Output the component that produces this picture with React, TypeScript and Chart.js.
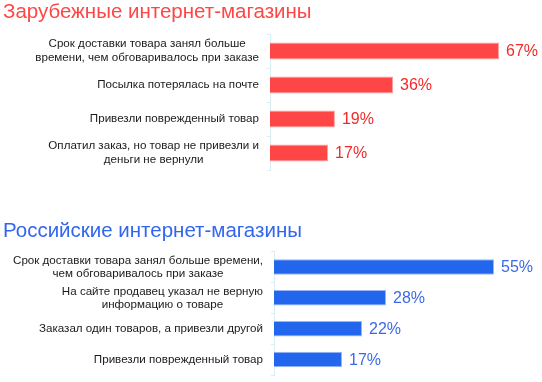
import { useEffect, useRef } from "react";
import { Chart, registerables } from "chart.js";

Chart.register(...registerables);

const FONT = '"Liberation Sans", Arial, Helvetica, sans-serif';

// ---- Data ----
const foreignTitle = "Зарубежные интернет-магазины";
const foreignLabels: (string | string[])[] = [
  ["Срок доставки товара занял больше", "времени, чем обговаривалось при заказе"],
  "Посылка потерялась на почте",
  "Привезли поврежденный товар",
  ["Оплатил заказ, но товар не привезли и", "деньги не вернули"],
];
const foreignValues = [67, 36, 19, 17];

const russianTitle = "Российские интернет-магазины";
const russianLabels: (string | string[])[] = [
  ["Срок доставки товара занял больше времени,", "чем обговаривалось при заказе"],
  ["На сайте продавец указал не верную", "информацию о товаре"],
  "Заказал один товаров, а привезли другой",
  "Привезли поврежденный товар",
];
const russianValues = [55, 28, 22, 17];

type Spec = {
  title: string;
  labels: (string | string[])[];
  values: number[];
  titleColor: string;
  barColor: string;
  barBorder: string;
  valueColor: string;
  xMax: number;
  axisWidth: number;
  padRight: number;
  padBottom: number;
  titlePadTop: number;
  titlePadBottom: number;
  lineHeight: number;
};

function valueLabelPlugin(spec: Spec) {
  return {
    id: "valueLabels",
    afterDatasetsDraw(chart: any) {
      const ctx = chart.ctx;
      const meta = chart.getDatasetMeta(0);
      ctx.save();
      ctx.font = `16px ${FONT}`;
      ctx.fillStyle = spec.valueColor;
      ctx.textAlign = "left";
      ctx.textBaseline = "middle";
      meta.data.forEach((bar: any, i: number) => {
        ctx.fillText(spec.values[i] + "%", bar.x + 7, bar.y + 1);
      });
      ctx.restore();
    },
  };
}

function categoryLabelPlugin(spec: Spec) {
  return {
    id: "categoryLabels",
    afterDraw(chart: any) {
      const ctx = chart.ctx;
      const yScale = chart.scales.y;
      const right = chart.chartArea.left - 11;
      ctx.save();
      ctx.font = `11.6px ${FONT}`;
      ctx.fillStyle = "#1a1a1a";
      ctx.textAlign = "center";
      ctx.textBaseline = "middle";
      chart.data.labels.forEach((lab: any, i: number) => {
        const lines: string[] = Array.isArray(lab) ? lab : [lab];
        const w = Math.max(...lines.map((l) => ctx.measureText(l).width));
        const cx = right - w / 2;
        const cy = yScale.getPixelForValue(i);
        const start = cy - ((lines.length - 1) * spec.lineHeight) / 2;
        lines.forEach((l, k) => ctx.fillText(l, cx, start + k * spec.lineHeight));
      });
      ctx.restore();
    },
  };
}

function BarPanel({ spec, top, height }: { spec: Spec; top: number; height: number }) {
  const ref = useRef<HTMLCanvasElement | null>(null);
  useEffect(() => {
    if (!ref.current) return;
    const chart = new Chart(ref.current, {
      type: "bar",
      data: {
        labels: spec.labels as any,
        datasets: [
          {
            data: spec.values,
            backgroundColor: spec.barColor,
            borderColor: spec.barBorder,
            borderWidth: 1,
            categoryPercentage: 1,
            barPercentage: 0.5,
          },
        ],
      },
      options: {
        indexAxis: "y",
        responsive: false,
        animation: false,
        layout: { padding: { left: 3, right: spec.padRight, top: 0, bottom: spec.padBottom } },
        plugins: {
          legend: { display: false },
          tooltip: { enabled: false },
          title: {
            display: true,
            text: spec.title,
            align: "start",
            color: spec.titleColor,
            font: { family: FONT, size: 20.5, weight: "normal" },
            padding: { top: spec.titlePadTop, bottom: spec.titlePadBottom },
          },
        },
        scales: {
          x: { display: false, min: 0, max: spec.xMax },
          y: {
            type: "category",
            afterFit: (s: any) => {
              s.width = spec.axisWidth;
            },
            ticks: { display: false },
            grid: {
              display: true,
              drawOnChartArea: false,
              drawTicks: true,
              tickLength: 3,
              color: "#d9edf5",
            },
            border: { display: true, color: "#d9edf5" },
          },
        },
      },
      plugins: [valueLabelPlugin(spec), categoryLabelPlugin(spec)],
    } as any);
    return () => chart.destroy();
  }, [spec]);
  return (
    <canvas
      ref={ref}
      width={542}
      height={height}
      style={{ position: "absolute", left: 0, top, width: 542, height }}
    />
  );
}

const foreignSpec: Spec = {
  title: foreignTitle,
  labels: foreignLabels,
  values: foreignValues,
  titleColor: "#ff4646",
  barColor: "#ff4646",
  barBorder: "#ffa0a0",
  valueColor: "#f02a2a",
  xMax: 79,
  axisWidth: 267,
  padRight: 2,
  padBottom: 10,
  titlePadTop: 0,
  titlePadBottom: 9.4,
  lineHeight: 13.5,
};

const russianSpec: Spec = {
  title: russianTitle,
  labels: russianLabels,
  values: russianValues,
  titleColor: "#3366ee",
  barColor: "#2266ee",
  barBorder: "#9ab6f5",
  valueColor: "#3b6ae8",
  xMax: 67,
  axisWidth: 271,
  padRight: 0,
  padBottom: 7,
  titlePadTop: 9.3,
  titlePadBottom: 7.6,
  lineHeight: 13,
};

export default function App() {
  return (
    <div
      style={{
        position: "fixed",
        left: 0,
        top: 0,
        width: 542,
        height: 382,
        background: "#ffffff",
        overflow: "hidden",
      }}
    >
      <BarPanel spec={foreignSpec} top={0} height={180} />
      <BarPanel spec={russianSpec} top={210} height={172} />
    </div>
  );
}
